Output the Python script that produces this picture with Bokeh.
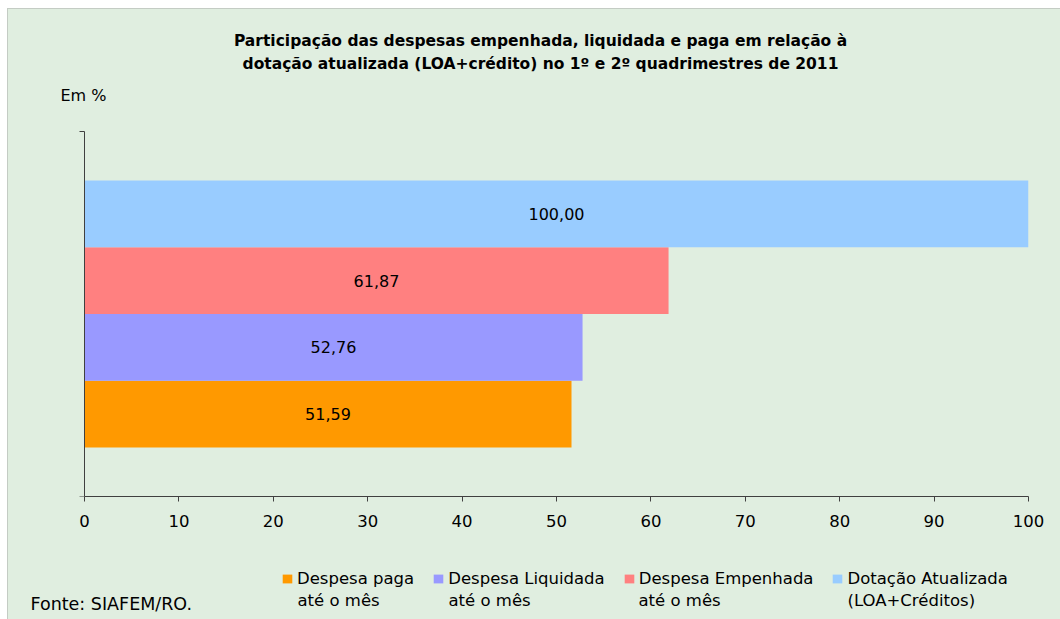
from bokeh.plotting import figure
from bokeh.layouts import column
from bokeh.models import Range1d, FixedTicker, Label, Legend, LegendItem, LabelSet, ColumnDataSource
from bokeh.core.properties import value
from bokeh.embed import file_html
from bokeh.resources import INLINE

# ---- data ----
series_line1 = ["Despesa paga", "Despesa Liquidada", "Despesa Empenhada", "Dotação Atualizada"]
series_line2 = ["até o mês", "até o mês", "até o mês", "(LOA+Créditos)"]
values = [51.59, 52.76, 61.87, 100.00]
colors = ["#FF9900", "#9999FF", "#FF8080", "#99CCFF"]
x_ticks = [0, 10, 20, 30, 40, 50, 60, 70, 80, 90, 100]
title_lines = ["Participação das despesas empenhada, liquidada e paga em relação à",
               "dotação atualizada (LOA+crédito) no 1º e 2º quadrimestres de 2011"]
unit_label = "Em %"
source_label = "Fonte: SIAFEM/RO."

FONT = "DejaVu Sans"
BG = "#E0EEE0"
W = 1052
H1, H2 = 545, 65          # main figure, footer figure
FL, FR = 20, 32           # frame left / right border in main figure
X0 = 76                   # pixel position of value 0
FRAME_B = 487             # frame bottom (x axis) in main figure
BAR_TOP = 122             # top of the value axis

gap = 0.735
ymax = 2 * gap + len(values)
xmin = -(X0 - FL) / (W - FR - X0) * 100
ytop = ymax * FRAME_B / (FRAME_B - BAR_TOP)

p = figure(width=W, height=H1, output_backend="svg", toolbar_location=None,
           x_range=Range1d(xmin, 100), y_range=Range1d(0, ytop),
           min_border_left=FL, min_border_right=FR, min_border_top=0,
           min_border_bottom=H1 - FRAME_B)
p.background_fill_color = BG
p.border_fill_color = BG
p.outline_line_color = None
p.xgrid.visible = False
p.ygrid.visible = False

centers = [gap + i + 0.5 for i in range(len(values))]
renderers = []
for i, (v, c) in enumerate(zip(values, colors)):
    r = p.hbar(y=[centers[i]], right=[v], left=0, height=1.0, color=c, line_color=None)
    renderers.append(r)

lab_src = ColumnDataSource(dict(x=[v / 2 for v in values], y=centers,
                                t=[f"{v:.2f}".replace(".", ",") for v in values]))
p.add_layout(LabelSet(x="x", y="y", text="t", source=lab_src, text_align="center",
                      text_baseline="middle", text_font=value(FONT), text_font_size="16px",
                      text_color="#000000"))

# axes
ax = p.xaxis[0]
ax.ticker = FixedTicker(ticks=x_ticks)
ax.bounds = (0, 100)
ax.axis_line_color = "#404040"
ax.major_tick_line_color = "#404040"
ax.major_tick_out = 5
ax.major_tick_in = 0
ax.minor_tick_line_color = None
ax.major_label_text_font = FONT
ax.major_label_text_font_size = "16.5px"
ax.major_label_text_color = "#000000"
ax.major_label_standoff = 13

ay = p.yaxis[0]
ay.ticker = FixedTicker(ticks=[0, ymax])
ay.bounds = (0, ymax)
ay.fixed_location = 0
ay.axis_line_color = "#404040"
ay.major_tick_line_color = "#404040"
ay.major_tick_out = 5
ay.major_tick_in = 0
ay.minor_tick_line_color = None
ay.major_label_text_font_size = "0px"
ay.major_label_text_color = None
ay.major_label_standoff = 0

# title and unit (screen units relative to the frame's bottom-left)
for line, yy in zip(title_lines, [FRAME_B - 31, FRAME_B - 54]):
    p.add_layout(Label(x=532 - FL, y=yy, x_units="screen", y_units="screen", text=line,
                       text_align="center", text_baseline="middle", text_font=FONT,
                       text_font_size="15.5px", text_font_style="bold", text_color="#000000"))
p.add_layout(Label(x=52 - FL, y=FRAME_B - 86, x_units="screen", y_units="screen",
                   text=unit_label, text_align="left", text_baseline="middle",
                   text_font=FONT, text_font_size="16px", text_color="#000000"))

# footer: legend and source (its frame is aligned with the main frame, left = FL)
f = figure(width=W, height=H2, output_backend="svg", toolbar_location=None,
           x_range=Range1d(0, 1), y_range=Range1d(0, 1),
           x_axis_location=None, y_axis_location=None,
           min_border_left=0, min_border_right=0, min_border_top=0, min_border_bottom=0)
f.grid.visible = False
f.background_fill_color = BG
f.border_fill_color = BG
f.outline_line_color = None
# legend proxies: same bars, placed outside the footer's visible range
proxies = [f.hbar(y=[-10], right=[v], left=0, height=1.0, color=c, line_color=None)
           for v, c in zip(values, colors)]
items = [LegendItem(label=series_line1[i], renderers=[proxies[i]]) for i in range(len(values))]
lg = Legend(items=items, location=(273 - FL, 31),
            orientation="horizontal", padding=0, margin=0, spacing=18,
            glyph_width=12, glyph_height=11, label_standoff=4,
            label_text_font=FONT, label_text_font_size="16.5px",
            label_text_line_height=1.2, label_text_color="#000000",
            background_fill_alpha=0, border_line_color=None)
f.add_layout(lg)
# second lines of the legend entries
line2_x = [289, 440, 630, 839]
for t, xx in zip(series_line2, line2_x):
    f.add_layout(Label(x=xx - FL, y=19, x_units="screen", y_units="screen", text=t,
                       text_align="left", text_baseline="middle", text_font=FONT,
                       text_font_size="16.5px", text_color="#000000"))
f.add_layout(Label(x=22 - FL, y=16, x_units="screen", y_units="screen", text=source_label,
                   text_align="left", text_baseline="middle", text_font=FONT,
                   text_font_size="17.5px", text_color="#000000"))

layout = column(p, f, spacing=0)
layout.margin = (9, 0, 0, 8)
layout.styles = {"background-color": BG, "outline": "1px solid #C4CCC4"}
open("out.html", "w").write(file_html(layout, INLINE))
